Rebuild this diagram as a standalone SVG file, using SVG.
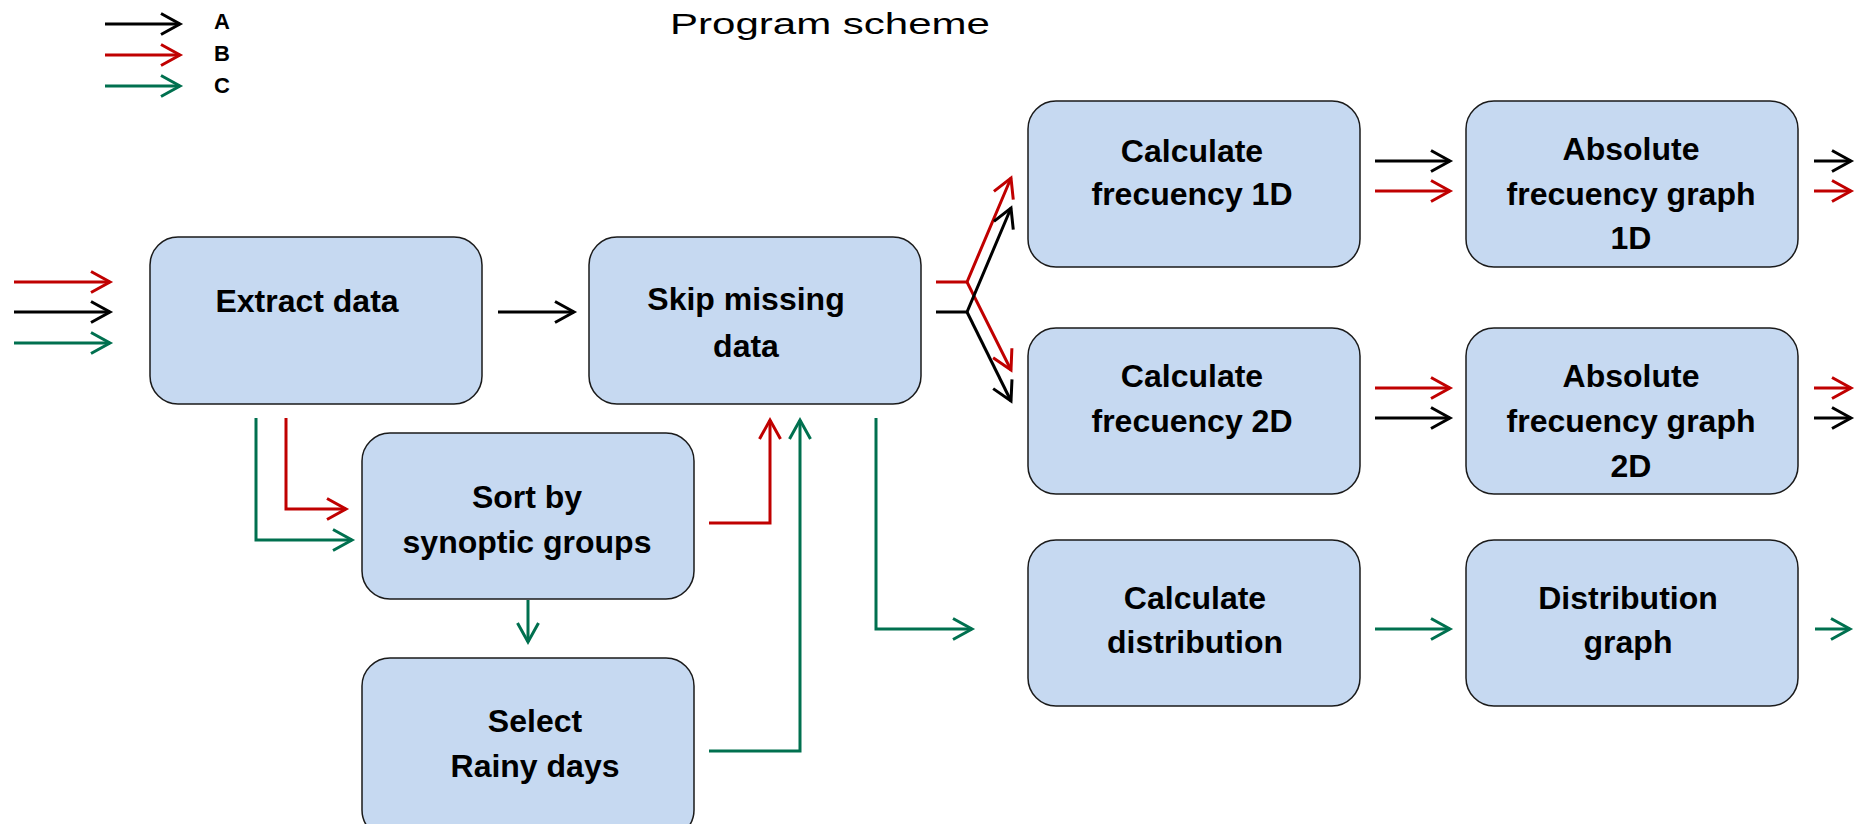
<svg xmlns="http://www.w3.org/2000/svg" width="1861" height="824" viewBox="0 0 1861 824">
<style>
.box{fill:#C6D9F1;stroke:#1a1a1a;stroke-width:1.5}
.t{font-family:"Liberation Sans",Arial,sans-serif;font-weight:bold;font-size:32px;fill:#000;text-anchor:middle}
.lg{font-family:"Liberation Sans",Arial,sans-serif;font-weight:bold;font-size:22px;fill:#000}
.title{font-family:"Liberation Sans",Arial,sans-serif;font-size:30px;fill:#000}
.a{fill:none;stroke:#000;stroke-width:3;marker-end:url(#mA)}
.b{fill:none;stroke:#C00000;stroke-width:3;marker-end:url(#mB)}
.c{fill:none;stroke:#00704F;stroke-width:3;marker-end:url(#mC)}
</style>
<defs>
<marker id="mA" markerUnits="userSpaceOnUse" orient="auto" markerWidth="30" markerHeight="30" refX="0" refY="0" overflow="visible"><path d="M-19,-10.5 L0,0 L-19,10.5" fill="none" stroke="#000" stroke-width="3"/></marker>
<marker id="mB" markerUnits="userSpaceOnUse" orient="auto" markerWidth="30" markerHeight="30" refX="0" refY="0" overflow="visible"><path d="M-19,-10.5 L0,0 L-19,10.5" fill="none" stroke="#C00000" stroke-width="3"/></marker>
<marker id="mC" markerUnits="userSpaceOnUse" orient="auto" markerWidth="30" markerHeight="30" refX="0" refY="0" overflow="visible"><path d="M-19,-10.5 L0,0 L-19,10.5" fill="none" stroke="#00704F" stroke-width="3"/></marker>
</defs>
<rect width="1861" height="824" fill="#fff"/>
<text class="title" x="670" y="34" textLength="320" lengthAdjust="spacingAndGlyphs">Program scheme</text>
<g id="legend">
<path class="a" d="M105,24 H180"/>
<path class="b" d="M105,55 H180"/>
<path class="c" d="M105,86 H180"/>
<text class="lg" x="214" y="29">A</text>
<text class="lg" x="214" y="61">B</text>
<text class="lg" x="214" y="93">C</text>
</g>
<g id="extract"><rect class="box" x="150" y="237" width="332" height="167" rx="28"/><text class="t" x="307" y="312">Extract data</text></g>
<g id="skip"><rect class="box" x="589" y="237" width="332" height="167" rx="28"/><text class="t" x="746" y="310">Skip missing</text><text class="t" x="746" y="357">data</text></g>
<g id="sort"><rect class="box" x="362" y="433" width="332" height="166" rx="28"/><text class="t" x="527" y="508">Sort by</text><text class="t" x="527" y="553">synoptic groups</text></g>
<g id="select"><rect class="box" x="362" y="658" width="332" height="180" rx="28"/><text class="t" x="535" y="732">Select</text><text class="t" x="535" y="777">Rainy days</text></g>
<g id="calc1d"><rect class="box" x="1028" y="101" width="332" height="166" rx="28"/><text class="t" x="1192" y="162">Calculate</text><text class="t" x="1192" y="205">frecuency 1D</text></g>
<g id="calc2d"><rect class="box" x="1028" y="328" width="332" height="166" rx="28"/><text class="t" x="1192" y="387">Calculate</text><text class="t" x="1192" y="432">frecuency 2D</text></g>
<g id="calcdist"><rect class="box" x="1028" y="540" width="332" height="166" rx="28"/><text class="t" x="1195" y="609">Calculate</text><text class="t" x="1195" y="653">distribution</text></g>
<g id="abs1d"><rect class="box" x="1466" y="101" width="332" height="166" rx="28"/><text class="t" x="1631" y="160">Absolute</text><text class="t" x="1631" y="205">frecuency graph</text><text class="t" x="1631" y="249">1D</text></g>
<g id="abs2d"><rect class="box" x="1466" y="328" width="332" height="166" rx="28"/><text class="t" x="1631" y="387">Absolute</text><text class="t" x="1631" y="432">frecuency graph</text><text class="t" x="1631" y="477">2D</text></g>
<g id="distgraph"><rect class="box" x="1466" y="540" width="332" height="166" rx="28"/><text class="t" x="1628" y="609">Distribution</text><text class="t" x="1628" y="653">graph</text></g>
<g id="connectors">
<path class="b" d="M14,282 H110"/>
<path class="a" d="M14,312 H110"/>
<path class="c" d="M14,343 H110"/>
<path class="a" d="M498,312 H574"/>
<path class="c" d="M256,418 V540 H352"/>
<path class="b" d="M286,418 V509 H346"/>
<path class="c" d="M528,600 V642"/>
<path class="b" d="M709,523 H770 V420"/>
<path class="c" d="M709,751 H800 V420"/>
<path class="c" d="M876,418 V629 H972"/>
<path class="b" d="M936,282 H967 L1011,178"/>
<path class="b" d="M967,282 L1011,370"/>
<path class="a" d="M936,312 H967 L1011,208"/>
<path class="a" d="M967,312 L1011,401"/>
<path class="a" d="M1375,161 H1450"/>
<path class="b" d="M1375,191 H1450"/>
<path class="a" d="M1814,161 H1851"/>
<path class="b" d="M1814,191 H1851"/>
<path class="b" d="M1375,388 H1450"/>
<path class="a" d="M1375,418 H1450"/>
<path class="b" d="M1814,388 H1851"/>
<path class="a" d="M1814,418 H1851"/>
<path class="c" d="M1375,629 H1450"/>
<path class="c" d="M1815,629 H1850"/>
</g>
</svg>
